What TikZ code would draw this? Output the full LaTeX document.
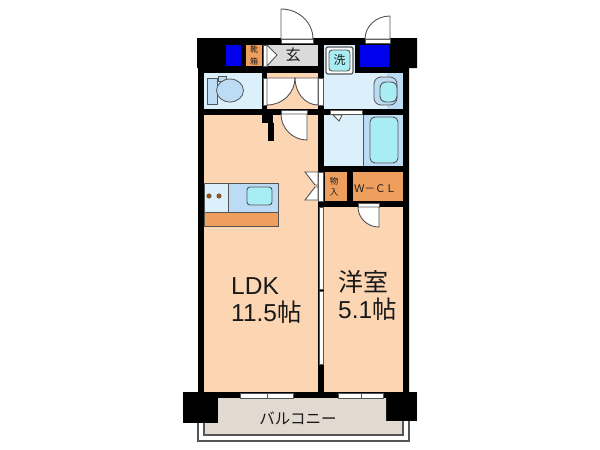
\documentclass[tikz,border=0pt]{standalone}
\usepackage{fontspec}
\setmainfont{Liberation Sans}
\newfontfamily\cjk{Noto Sans CJK JP}
\definecolor{floorcol}{HTML}{FCD5B2}
\definecolor{closetcol}{HTML}{EE9F5E}
\definecolor{wetcol}{HTML}{DCF0FC}
\definecolor{fixcol}{HTML}{BBDCF4}
\definecolor{watercol}{HTML}{A9EDF4}
\definecolor{balconycol}{HTML}{E2D9D1}
\definecolor{entrycol}{HTML}{DADADA}
\definecolor{linecol}{HTML}{555555}
\tikzstyle{wall} = [fill=black]
\tikzstyle{floorroom} = [fill=floorcol]
\tikzstyle{closet} = [fill=closetcol]
\tikzstyle{wetroom} = [fill=wetcol]
\tikzstyle{fixture} = [fill=fixcol, draw=linecol, line width=0.8pt]
\tikzstyle{water} = [fill=watercol, draw=linecol, line width=0.9pt, rounded corners=3pt]
\tikzstyle{leaf} = [fill=white, draw=linecol, line width=0.9pt]
\tikzstyle{sill} = [fill=white, draw=linecol, line width=0.7pt]
\tikzstyle{label} = [inner sep=0pt, text=black!90]

\begin{document}
\begin{tikzpicture}[x=1pt,y=-1pt]
  \useasboundingbox (0,0) rectangle (600,450);
  \fill[white] (0,0) rectangle (600,450);

  \path[wall] (197,38) -- (417,38) -- (417,68) -- (409,68) -- (409,392) -- (198,392) -- (198,68) -- (197,68) -- cycle;
  \path[wall] (183,392) rectangle (417,398);
  \path[wall] (183,392) rectangle (218,423);
  \path[wall] (386,392) rectangle (417,421);

  \path[floorroom] (204,115) rectangle (318,392);
  \path[floorroom] (324,207) rectangle (403,392);
  \path[floorroom] (267,73) rectangle (318,109);
  \path[fill=balconycol] (218,398) -- (386,398) -- (386,421) -- (403,421) -- (403,435) -- (204,435) -- (204,423) -- (218,423) -- cycle;
  \draw[linecol, line width=1.1pt] (204,423) -- (204,435) -- (403,435) -- (403,421);
  \draw[linecol, line width=1.1pt] (198,423) -- (198,441) -- (409,441) -- (409,421);

  \path[wetroom] (204,73) rectangle (262,109);
  \path[wetroom] (324,45) rectangle (355,73);
  \path[wetroom] (324,73) rectangle (403,109);
  \path[fill=fixcol] (387,73) rectangle (403,109);
  \path[wetroom] (324,115) rectangle (363,166);
  \path[fill=fixcol] (363,115) rectangle (403,166);
  \draw[linecol, line width=0.6pt] (363,115) -- (363,166);

  \path[closet] (246,45) rectangle (262,66);
  \path[fill=entrycol] (267,45) rectangle (318,66);
  \path[closet] (325,172) rectangle (347,201);
  \path[closet] (353,172) rectangle (403,201);
  \path[fill=blue!93!black] (226,45) rectangle (241,66);
  \path[fill=blue!93!black] (360,45) rectangle (389,67);

  \path[sill] (281,39) rectangle (313,43);
  \path[sill] (365,39) rectangle (390,43);
  \path[sill] (263,45) rectangle (267,66);
  \path[sill] (263,78) rectangle (267,105);
  \path[sill] (318,78) rectangle (323,105);
  \path[sill] (281,110) rectangle (307,114);
  \path[sill] (330,110) rectangle (362,114);
  \path[sill] (358,203) rectangle (379,207);
  \path[sill] (318,172) rectangle (323,201);
  \path[sill] (319.5,207) rectangle (323,289);
  \path[sill] (319.5,291) rectangle (323,364);
  \path[sill] (240,393) rectangle (267,398);
  \path[sill] (267,393) rectangle (293,398);
  \path[sill] (338,393) rectangle (361,398);
  \path[sill] (361,393) rectangle (383,398);

  \path[leaf] (281,39) -- (281,9) arc[start angle=270, end angle=360, x radius=32, y radius=30] -- cycle;
  \path[leaf] (390,39) -- (390,16) arc[start angle=270, end angle=180, x radius=25, y radius=23] -- cycle;
  \path[leaf] (267,78) -- (295,78) arc[start angle=0, end angle=90, x radius=28, y radius=27] -- cycle;
  \path[leaf] (318,78) -- (295,78) arc[start angle=180, end angle=90, x radius=23, y radius=27] -- cycle;
  \path[leaf] (307,114) -- (307,140) arc[start angle=90, end angle=180, x radius=26, y radius=26] -- cycle;
  \path[leaf] (379,207) -- (379,227) arc[start angle=90, end angle=180, x radius=21, y radius=20] -- cycle;
  \path[leaf] (267,45) -- (277,55) -- (267,66) -- cycle;
  \path[leaf] (318,172) -- (305,172) -- (315,185) -- (318,185) -- cycle;
  \path[leaf] (318,200) -- (305,200) -- (315,187) -- (318,187) -- cycle;
  \path[leaf] (333,115) -- (339,121) -- (342,115) -- cycle;

  \path[wall] (262,115) rectangle (273,123);
  \path[wall] (268,123) rectangle (274,141);

  \path[fill=white, draw=linecol, line width=1.2pt, rounded corners=2pt] (326,47) rectangle (353,74);
  \path[water] (329,50) rectangle (350,71);
  \path[fixture, rounded corners=7pt] (374,77) rectangle (397,105);
  \path[water, rounded corners=6pt] (380,82) rectangle (397,102);
  \path[water, rounded corners=5pt] (370,117) rectangle (398,163);

  \path[fixture] (207,78) rectangle (217,104);
  \path[fixture] (218,76) rectangle (226,81);
  \path[fixture] (230,90.5) ellipse [x radius=13.5, y radius=11.5];

  \path[fill=fixcol, draw=linecol, line width=0.7pt] (228,183) rectangle (278,212);
  \path[wetroom, draw=linecol, line width=0.7pt] (204,183) rectangle (228,212);
  \path[closet, draw=linecol, line width=0.6pt] (204,212) rectangle (278,226);
  \path[water] (247,187) rectangle (272,205);
  \path[fill=brown!70!black] (209,196) circle (2.6);
  \path[fill=brown!70!black] (219,196) circle (2.6);

  \node[label,font=\cjk\fontsize{15}{15}\selectfont] (genkan) at (293,55) {玄};
  \node[label,font=\cjk\fontsize{8}{8}\selectfont] (shoes) at (254,55.5) {\shortstack{靴\\[1pt]箱}};
  \node[label,font=\cjk\fontsize{12}{12}\selectfont] (wash) at (339.5,59.5) {洗};
  \node[label,font=\cjk\fontsize{8.5}{8.5}\selectfont] (storage) at (334,186.5) {\shortstack{物\\[1pt]入}};
  \node[label,font=\cjk\fontsize{10.5}{10.5}\selectfont] (wcl) at (375,189) {Ｗ－ＣＬ};
  \node[label,anchor=base west,font=\fontsize{24.5}{24.5}\selectfont] (ldk) at (231,294) {LDK};
  \node[label,anchor=base west,font=\fontsize{24.5}{24.5}\selectfont] (ldksize) at (231,321) {11.5{\cjk 帖}};
  \node[label,anchor=base west,font=\cjk\fontsize{25}{25}\selectfont] (western) at (338,291) {洋室};
  \node[label,anchor=base west,font=\fontsize{24.5}{24.5}\selectfont] (westernsize) at (338,318) {5.1{\cjk 帖}};
  \node[label,font=\cjk\fontsize{15.5}{15.5}\selectfont] (balcony) at (298,418) {バルコニー};
\end{tikzpicture}
\end{document}
